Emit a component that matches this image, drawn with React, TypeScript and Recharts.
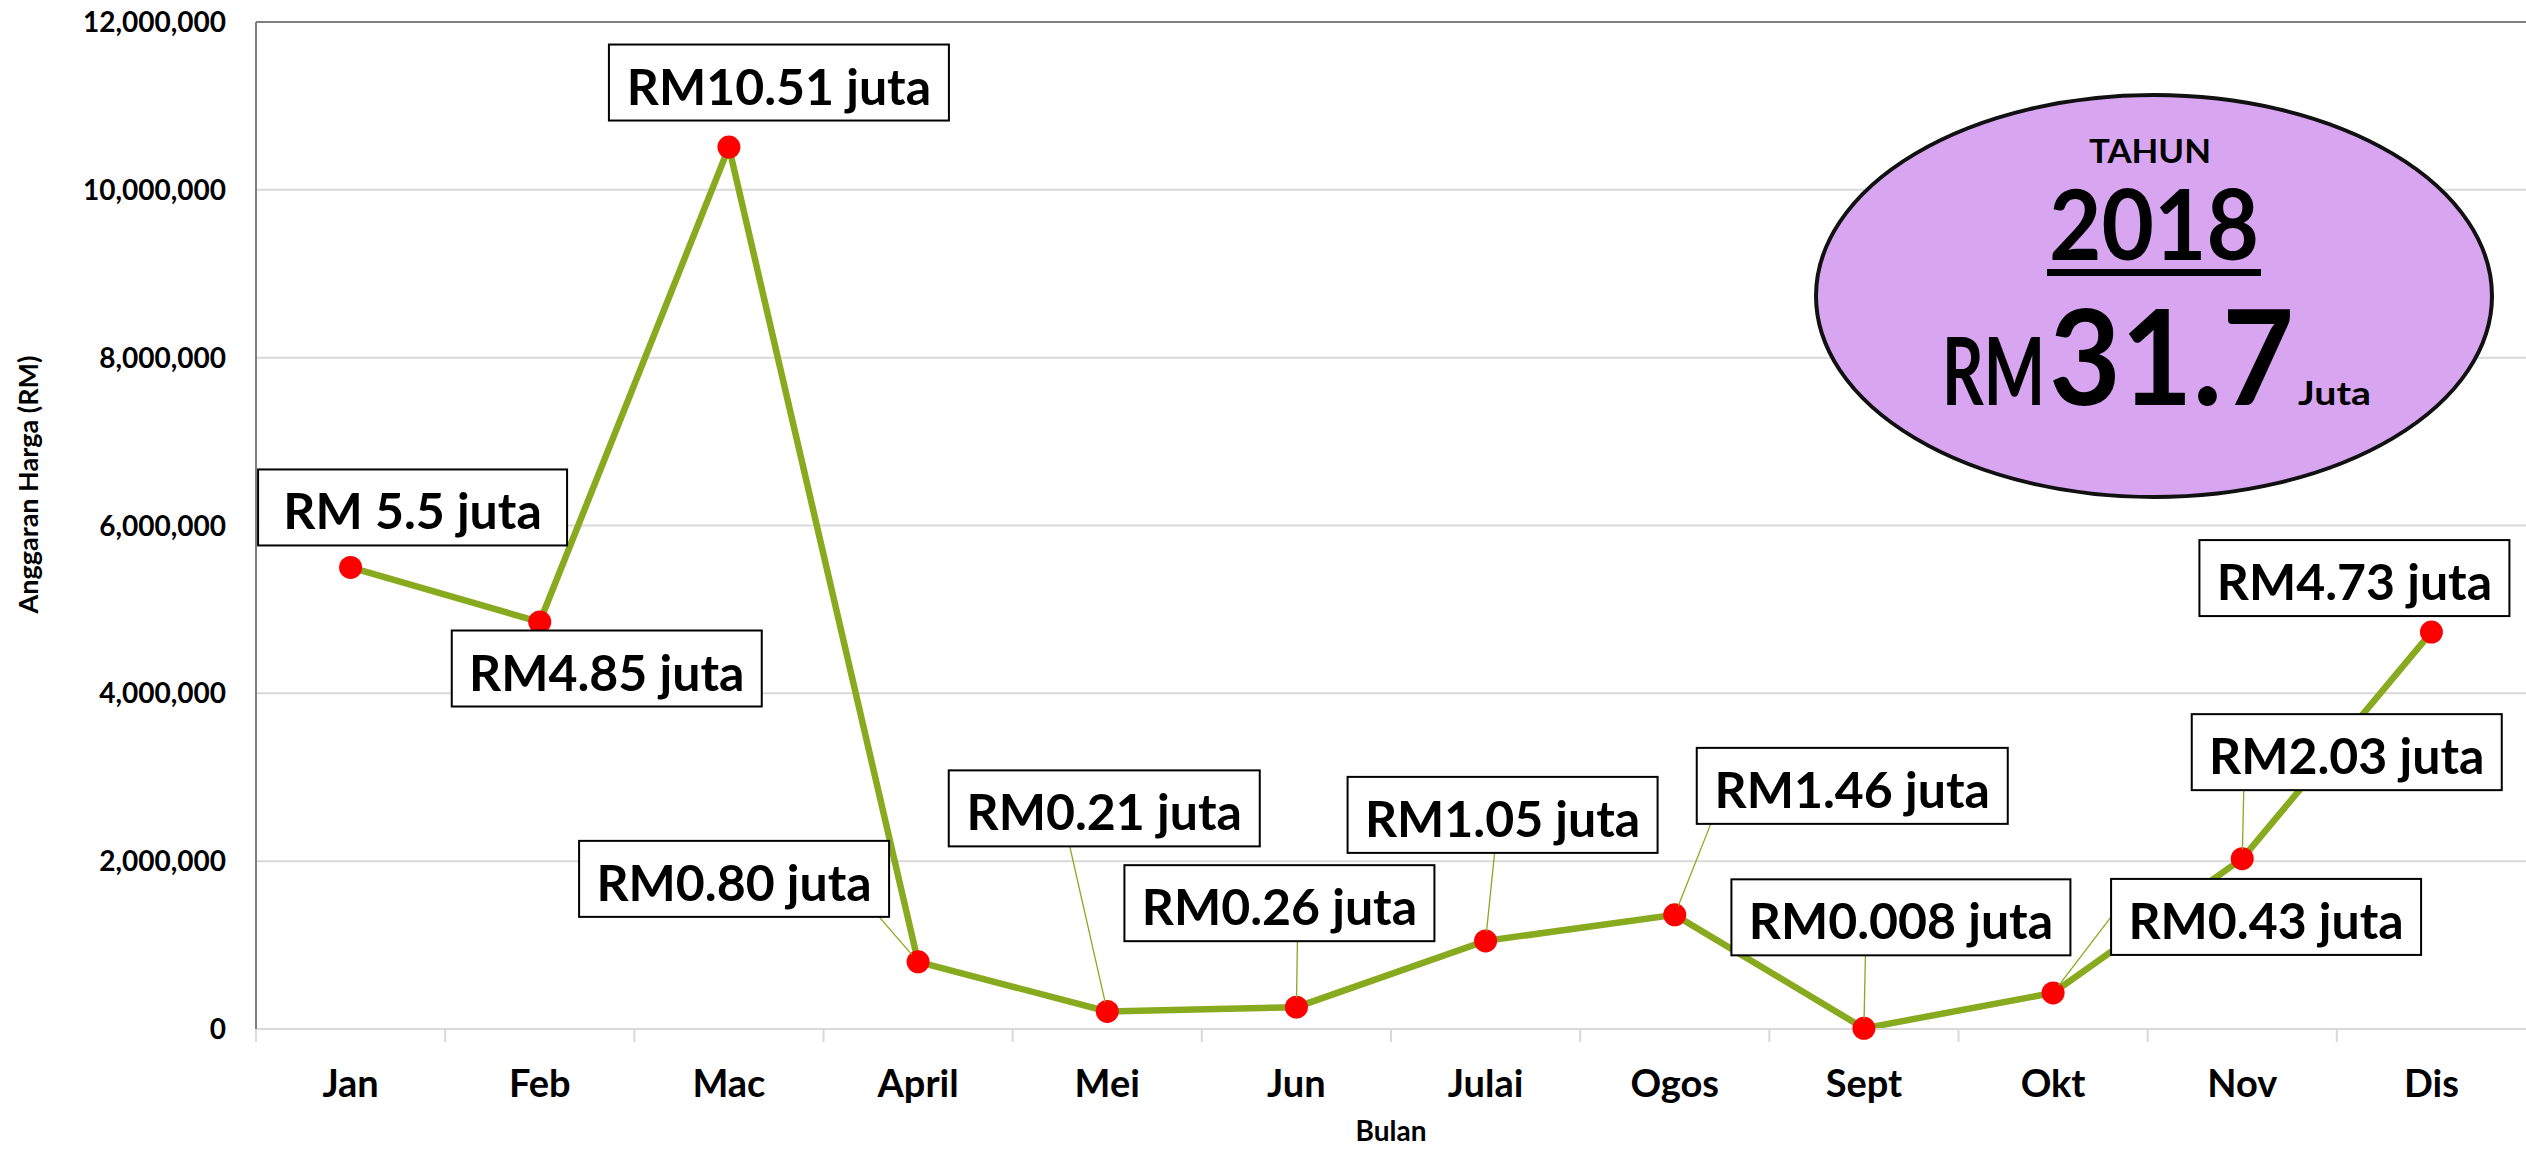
import React from 'react';
import {
  LineChart,
  Line,
  XAxis,
  YAxis,
  CartesianGrid,
  ReferenceLine,
  LabelList,
} from 'recharts';

const months = ['Jan', 'Feb', 'Mac', 'April', 'Mei', 'Jun', 'Julai', 'Ogos', 'Sept', 'Okt', 'Nov', 'Dis'];
const budget = [5500000, 4850000, 10510000, 800000, 210000, 260000, 1050000, 1360000, 8000, 430000, 2030000, 4730000];
const budgetLabels = [
  'RM 5.5 juta',
  'RM4.85 juta',
  'RM10.51 juta',
  'RM0.80 juta',
  'RM0.21 juta',
  'RM0.26 juta',
  'RM1.05 juta',
  'RM1.46 juta',
  'RM0.008 juta',
  'RM0.43 juta',
  'RM2.03 juta',
  'RM4.73 juta',
];
const yTicks = [0, 2000000, 4000000, 6000000, 8000000, 10000000, 12000000];

const data = months.map((m, i) => ({ month: m, value: budget[i], label: budgetLabels[i] }));

const W = 2526;
const H = 1150;
const PLOT_LEFT = 256;
const PLOT_TOP = 22;
const X_AXIS_H = 121;
const BAND = (W - PLOT_LEFT) / months.length;
const LINE_COLOR = '#88aa1f';
const DOT_R = 11.5;
const FONT = 'Lato, "Noto Sans", sans-serif';

// where each callout box sits relative to its point, plus optional leader anchor
const LABEL_LAYOUT: { dx: number; dy: number; w: number; lead?: [number, number] }[] = [
  { dx: 62, dy: -60, w: 309 },
  { dx: 67, dy: 46.5, w: 310 },
  { dx: 50, dy: -64.5, w: 340 },
  { dx: -184, dy: -83, w: 310, lead: [145, 38] },
  { dx: -3, dy: -203, w: 311, lead: [-34.5, 38] },
  { dx: -17, dy: -104, w: 310, lead: [18, 38] },
  { dx: 17, dy: -126, w: 310, lead: [-8, 38] },
  { dx: 177.5, dy: -129, w: 311, lead: [-141.5, 38] },
  { dx: 37, dy: -111, w: 339, lead: [-35.5, 38] },
  { dx: 213, dy: -76, w: 310, lead: [-155, 0] },
  { dx: 104.5, dy: -106.5, w: 310, lead: [-103, 38] },
  { dx: -77, dy: -54, w: 310 },
];

const BoxLabel = (props: any) => {
  const { x, y, index, value } = props;
  const p = LABEL_LAYOUT[index];
  if (!p) return null;
  const cx = x + p.dx;
  const cy = y + p.dy;
  const h = 76;
  let leader = null;
  if (p.lead) {
    const ax = cx + p.lead[0];
    const ay = cy + p.lead[1];
    const len = Math.hypot(x - ax, y - ay);
    const ex = x - ((x - ax) / len) * (DOT_R - 2);
    const ey = y - ((y - ay) / len) * (DOT_R - 2);
    leader = <line x1={ax} y1={ay} x2={ex} y2={ey} stroke={LINE_COLOR} strokeWidth={1.3} />;
  }
  return (
    <g>
      {leader}
      <rect x={cx - p.w / 2} y={cy - h / 2} width={p.w} height={h} fill="#fff" stroke="#000" strokeWidth={2} />
      <text x={cx} y={cy + 22} textAnchor="middle" fontFamily={FONT} fontWeight={700} fontSize={50} fill="#000">
        {value}
      </text>
    </g>
  );
};

const MonthTick = (props: any) => {
  const { x, y, payload } = props;
  const bx = x - BAND / 2;
  return (
    <g>
      <line x1={bx} y1={y} x2={bx} y2={y + 13} stroke="#d9d9d9" strokeWidth={2} />
      <text x={x} y={y + 68} textAnchor="middle" fontFamily={FONT} fontWeight={700} fontSize={38} fill="#000">
        {payload.value}
      </text>
    </g>
  );
};

const YTick = (props: any) => {
  const { x, y, payload } = props;
  return (
    <text x={x} y={y + 10} textAnchor="end" fontFamily={FONT} fontWeight={700} fontSize={28} fill="#000">
      {Number(payload.value).toLocaleString('en-US')}
    </text>
  );
};

const YTitle = (props: any) => {
  const { viewBox } = props;
  const tx = viewBox.x + 38;
  const ty = viewBox.y + viewBox.height / 2 - 41;
  return (
    <text
      x={tx}
      y={ty}
      transform={`rotate(-90, ${tx}, ${ty})`}
      textAnchor="middle"
      fontFamily={FONT}
      fontWeight={700}
      fontSize={27}
      fill="#000"
    >
      Anggaran Harga (RM)
    </text>
  );
};

const XTitle = (props: any) => {
  const { viewBox } = props;
  return (
    <text
      x={viewBox.x + viewBox.width / 2}
      y={viewBox.y + 112}
      textAnchor="middle"
      fontFamily={FONT}
      fontWeight={700}
      fontSize={28}
      fill="#000"
    >
      Bulan
    </text>
  );
};

function TotalBadge() {
  const gothic = 'Lato, "Liberation Sans", sans-serif';
  return (
    <svg
      width={W}
      height={H}
      style={{ position: 'absolute', left: 0, top: 0, pointerEvents: 'none' }}
    >
      <ellipse cx={2154} cy={296} rx={338} ry={201} fill="#d8a6f1" stroke="#111" strokeWidth={4} />
      <text x={2150} y={163} textAnchor="middle" fontFamily={gothic} fontWeight={700} fontSize={32} textLength={122} lengthAdjust="spacingAndGlyphs">
        TAHUN
      </text>
      <text x={2154} y={260} textAnchor="middle" fontFamily={gothic} fontWeight={700} fontSize={97} textLength={210} lengthAdjust="spacingAndGlyphs">
        2018
      </text>
      <rect x={2047} y={269} width={214} height={7} fill="#000" />
      <text x={1942} y={405} fontFamily={gothic} fontWeight={700} fontSize={94} textLength={103} lengthAdjust="spacingAndGlyphs">
        RM
      </text>
      <text x={2049} y={405} fontFamily={gothic} fontWeight={700} fontSize={132} textLength={245} lengthAdjust="spacingAndGlyphs">
        31.7
      </text>
      <text x={2298} y={405} fontFamily={gothic} fontWeight={700} fontSize={32} textLength={73} lengthAdjust="spacingAndGlyphs">
        Juta
      </text>
    </svg>
  );
}

export default function App() {
  return (
    <div style={{ position: 'absolute', left: 0, top: 0, width: W, height: H, background: '#fff' }}>
      <LineChart width={W} height={H} data={data} margin={{ top: PLOT_TOP, right: 0, bottom: 0, left: 0 }}>
        <CartesianGrid horizontal vertical={false} stroke="#d9d9d9" strokeWidth={2} />
        <XAxis
          dataKey="month"
          scale="band"
          height={X_AXIS_H}
          axisLine={{ stroke: '#d9d9d9', strokeWidth: 2 }}
          tickLine={false}
          tickSize={0}
          tickMargin={0}
          interval={0}
          tick={<MonthTick />}
          label={<XTitle />}
        />
        <YAxis
          width={PLOT_LEFT}
          domain={[0, 12000000]}
          ticks={yTicks}
          interval={0}
          axisLine={{ stroke: '#7f7f7f', strokeWidth: 2 }}
          tickLine={false}
          tickSize={0}
          tickMargin={30}
          tick={<YTick />}
          label={<YTitle />}
        />
        <ReferenceLine y={12000000} stroke="#7f7f7f" strokeWidth={2} />
        <Line
          type="linear"
          dataKey="value"
          stroke={LINE_COLOR}
          strokeWidth={6.5}
          dot={{ r: DOT_R, fill: '#ff0000', stroke: 'none' }}
          activeDot={false}
          isAnimationActive={false}
        >
          <LabelList dataKey="label" content={<BoxLabel />} />
        </Line>
      </LineChart>
      <TotalBadge />
    </div>
  );
}
